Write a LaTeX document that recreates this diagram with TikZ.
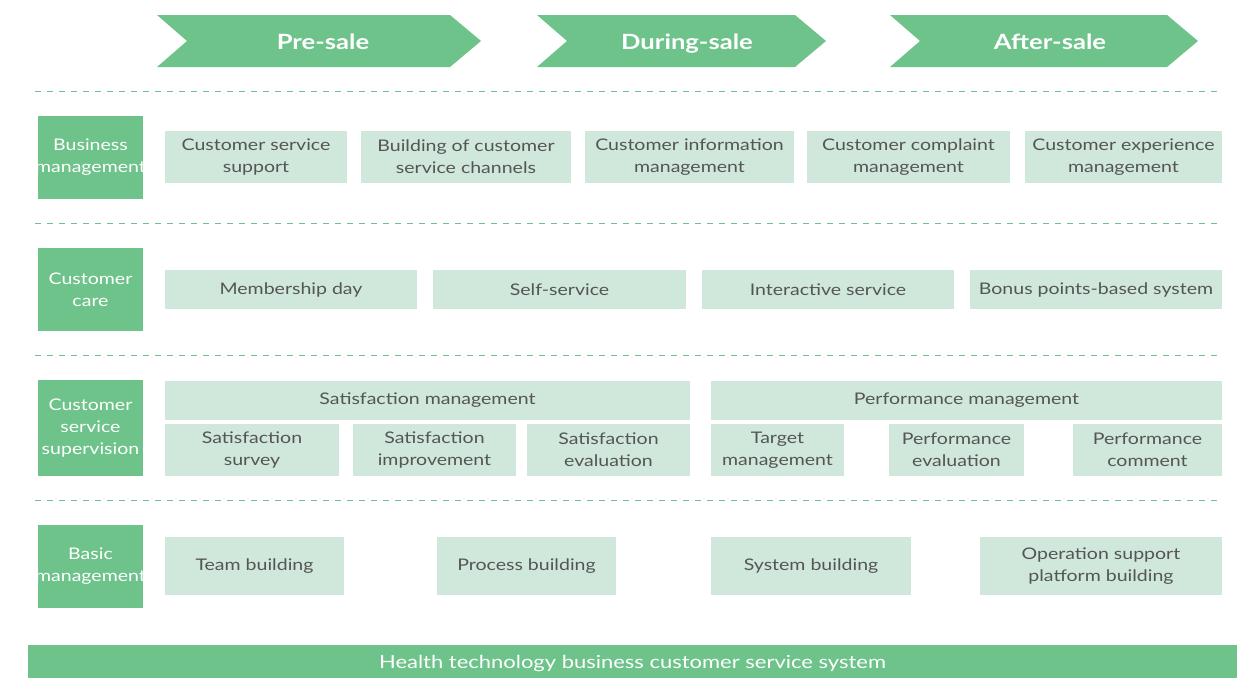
\documentclass[tikz,border=0pt]{standalone}
\usepackage{fontspec}
\setmainfont{Lato}[FakeStretch=1.22]
\definecolor{dgreen}{HTML}{6DC38A}
\definecolor{lgreen}{HTML}{CFE8DB}
\definecolor{tgray}{HTML}{555555}
\begin{document}
\begin{tikzpicture}[x=1pt,y=-1pt,
  lbox/.style={fill=lgreen, inner sep=0pt, text=tgray, align=center, font=\fontsize{16}{22}\selectfont},
  hbox/.style={fill=dgreen, inner sep=0pt, minimum width=105pt},
  htxt/.style={inner sep=0pt, text=white, align=center, font=\fontsize{16}{22}\selectfont},
  chev/.style={fill=dgreen},
  chevtxt/.style={text=white, anchor=base, font=\fontsize{21}{24}\selectfont\bfseries},
  sep/.style={draw=dgreen, dash pattern=on 6pt off 6pt, line width=1pt}]
\useasboundingbox (0,0) rectangle (1252,678);
% chevrons
\fill[chev] (157,15) -- (450,15) -- (481,41) -- (450,67) -- (157,67) -- (187,41) -- cycle;
\fill[chev] (537,15) -- (795,15) -- (826,41) -- (795,67) -- (537,67) -- (567,41) -- cycle;
\fill[chev] (890,15) -- (1167,15) -- (1198,41) -- (1167,67) -- (890,67) -- (920,41) -- cycle;
\node[chevtxt] (c1) at (323,49) {Pre-sale};
\node[chevtxt] (c2) at (687,49) {During-sale};
\node[chevtxt] (c3) at (1050,49) {After-sale};
% separators
\coordinate (s1a) at (35,91); \coordinate (s1b) at (1218,91);
\coordinate (s2a) at (35,223); \coordinate (s2b) at (1218,223);
\coordinate (s3a) at (35,355); \coordinate (s3b) at (1218,355);
\coordinate (s4a) at (35,500); \coordinate (s4b) at (1218,500);
\draw[sep] (s1a) -- (s1b);
\draw[sep] (s2a) -- (s2b);
\draw[sep] (s3a) -- (s3b);
\draw[sep] (s4a) -- (s4b);
% left headers
\node[hbox, minimum height=83pt] (h1) at (90.5,157.5) {};
\node[hbox, minimum height=83pt] (h2) at (90.5,289.5) {};
\node[hbox, minimum height=96pt] (h3) at (90.5,428) {};
\node[hbox, minimum height=83pt] (h4) at (90.5,566.5) {};
\node[htxt] (t1) at (h1) {Business\\management};
\node[htxt] (t2) at (h2) {Customer\\care};
\node[htxt] (t3) at (h3) {Customer\\service\\supervision};
\node[htxt] (t4) at (h4) {Basic\\management};
% row 1
\node[lbox, minimum width=182pt, minimum height=52pt] (b11) at (256,157) {Customer service\\support};
\node[lbox, minimum width=210pt, minimum height=52pt] (b12) at (466,157) {Building of customer\\service channels};
\node[lbox, minimum width=209pt, minimum height=52pt] (b13) at (689.5,157) {Customer information\\management};
\node[lbox, minimum width=203pt, minimum height=52pt] (b14) at (908.5,157) {Customer complaint\\management};
\node[lbox, minimum width=197pt, minimum height=52pt] (b15) at (1123.5,157) {Customer experience\\management};
% row 2
\node[lbox, minimum width=252pt, minimum height=39pt] (b21) at (291,289.5) {Membership day};
\node[lbox, minimum width=253pt, minimum height=39pt] (b22) at (559.5,289.5) {Self-service};
\node[lbox, minimum width=252pt, minimum height=39pt] (b23) at (828,289.5) {Interactive service};
\node[lbox, minimum width=252pt, minimum height=39pt] (b24) at (1096,289.5) {Bonus points-based system};
% row 3
\node[lbox, minimum width=525pt, minimum height=39pt] (b31) at (427.5,400.5) {Satisfaction management};
\node[lbox, minimum width=511pt, minimum height=39pt] (b32) at (966.5,400.5) {Performance management};
\node[lbox, minimum width=174pt, minimum height=52pt] (b33) at (252,450) {Satisfaction\\survey};
\node[lbox, minimum width=163pt, minimum height=52pt] (b34) at (434.5,450) {Satisfaction\\improvement};
\node[lbox, minimum width=163pt, minimum height=52pt] (b35) at (608.5,450) {Satisfaction\\evaluation};
\node[lbox, minimum width=133pt, minimum height=52pt] (b36) at (777.5,450) {Target\\management};
\node[lbox, minimum width=135pt, minimum height=52pt] (b37) at (956.5,450) {Performance\\evaluation};
\node[lbox, minimum width=149pt, minimum height=52pt] (b38) at (1147.5,450) {Performance\\comment};
% row 4
\node[lbox, minimum width=179pt, minimum height=58pt] (b41) at (254.5,566) {Team building};
\node[lbox, minimum width=179pt, minimum height=58pt] (b42) at (526.5,566) {Process building};
\node[lbox, minimum width=200pt, minimum height=58pt] (b43) at (811,566) {System building};
\node[lbox, minimum width=242pt, minimum height=58pt] (b44) at (1101,566) {Operation support\\platform building};
% bottom bar
\node[fill=dgreen, inner sep=0pt, minimum width=1209pt, minimum height=33pt] (bar) at (632.5,661.5) {};
\node[text=white, anchor=base, inner sep=0pt, font=\fontsize{18}{20}\selectfont] (bart) at (632.5,668) {Health technology business customer service system};
\end{tikzpicture}
\end{document}
